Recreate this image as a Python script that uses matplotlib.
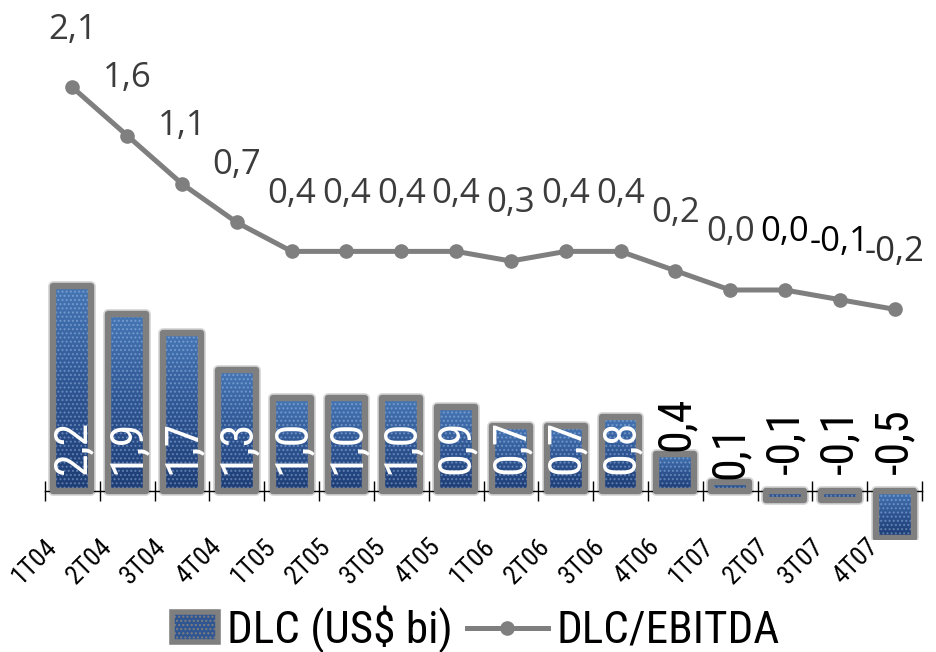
import numpy as np
import matplotlib
matplotlib.use("Agg")
import matplotlib.pyplot as plt
import matplotlib.transforms as mtransforms
from matplotlib import font_manager
from matplotlib.font_manager import FontProperties
from matplotlib.colors import LinearSegmentedColormap
from matplotlib.legend_handler import HandlerPatch
from matplotlib.lines import Line2D
from matplotlib.patches import Rectangle

quarters = ["1T04", "2T04", "3T04", "4T04", "1T05", "2T05", "3T05", "4T05",
            "1T06", "2T06", "3T06", "4T06", "1T07", "2T07", "3T07", "4T07"]
dlc = [2.2, 1.9, 1.7, 1.3, 1.0, 1.0, 1.0, 0.9, 0.7, 0.7, 0.8, 0.4, 0.1, -0.1, -0.1, -0.5]
dlc_ebitda = [2.1, 1.6, 1.1, 0.7, 0.4, 0.4, 0.4, 0.4, 0.3, 0.4, 0.4, 0.2, 0.0, 0.0, -0.1, -0.2]


def find_narrow():
    # look for any installed condensed / narrow regular face
    cands = []
    for f in font_manager.fontManager.ttflist:
        narrowish = ("Narrow" in f.name or "Condensed" in f.name
                     or f.stretch in ("condensed", "semi-condensed", "extra-condensed",
                                      "ultra-condensed"))
        if narrowish and f.style == "normal" and f.weight in (400, "normal", "regular"):
            cands.append(f)
    order = ["Liberation Sans Narrow", "Roboto Condensed", "Open Sans Condensed",
             "Noto Sans", "DejaVu Sans", "Liberation Sans"]
    for name in order:
        for f in cands:
            if f.name.startswith(name):
                return f.fname
    return cands[0].fname if cands else None


narrow_file = find_narrow()


def nfont(size):
    if narrow_file:
        return FontProperties(fname=narrow_file, size=size)
    return FontProperties(family="DejaVu Sans", size=size * 0.8)


LABEL_FONT = ["Open Sans", "DejaVu Sans"]
EDGE = "#7f7f7f"

fig = plt.figure(figsize=(9.36, 6.52), dpi=100)
ax = fig.add_axes([45 / 936, 1 - 540 / 652, 877 / 936, 500 / 652])
ax2 = ax.twinx()

x = np.arange(len(quarters))
width = 0.69

# bars: gradient fill, dotted texture, thick gray border
ax.bar(x, dlc, width=width, facecolor="none", edgecolor="#d4d4d4",
       linewidth=7.0, joinstyle="round", zorder=0.5)
bars = ax.bar(x, dlc, width=width, facecolor="none", edgecolor="none", zorder=1)
cmap = LinearSegmentedColormap.from_list("blu", ["#1d3c74", "#2e5592", "#4676b4"])
grad = np.linspace(0, 1, 64).reshape(-1, 1)
for bar in bars:
    x0 = bar.get_x()
    y0 = bar.get_y()
    h = bar.get_height()
    ylo, yhi = min(y0, y0 + h), max(y0, y0 + h)
    im = ax.imshow(grad, extent=[x0, x0 + bar.get_width(), ylo, yhi],
                   origin="lower", aspect="auto", cmap=cmap, zorder=1)
    im.set_clip_path(bar)

plt.rcParams["hatch.linewidth"] = 1.0
ax.bar(x, dlc, width=width, facecolor="none", edgecolor=(0.75, 0.85, 1.0, 0.35),
       hatch="....", linewidth=0, zorder=2)
ax.bar(x, dlc, width=width, facecolor="none", edgecolor=EDGE,
       linewidth=4.6, joinstyle="round", zorder=3)

for i, v in enumerate(dlc):
    txt = f"{v:.1f}".replace(".", ",")
    if v >= 0.5:
        ax.annotate(txt, xy=(i, 0), xytext=(0, 12), textcoords="offset points",
                    rotation=90, ha="center", va="bottom", color="white",
                    fontproperties=nfont(33), zorder=5)
    else:
        off = 2 if v >= 0 else 12
        ax.annotate(txt, xy=(i, max(v, 0)), xytext=(0, off), textcoords="offset points",
                    rotation=90, ha="center", va="bottom", color="black",
                    fontproperties=nfont(33), zorder=5)

ax.set_xlim(-0.5, len(quarters) - 0.5)
ax.set_ylim(-(540 - 491) / 93, (491 - 40) / 93)

# x axis at zero with boundary ticks
for side in ["top", "left", "right"]:
    ax.spines[side].set_visible(False)
ax.spines["bottom"].set_position(("data", 0))
ax.spines["bottom"].set_linewidth(1.0)
ax.set_yticks([])
ax.set_xticks(x)
ax.set_xticks(np.arange(-0.5, len(quarters), 1.0), minor=True)
ax.tick_params(axis="x", which="major", length=0, pad=31)
ax.tick_params(axis="x", which="minor", direction="inout", length=14, width=1.0)
ax.set_xticklabels(quarters, rotation=45, ha="right", rotation_mode="anchor",
                   fontproperties=nfont(19))
shift = mtransforms.ScaledTranslation(-0.28, 0, fig.dpi_scale_trans)
for lab in ax.get_xticklabels():
    lab.set_transform(lab.get_transform() + shift)

# line series
for side in ["top", "left", "right", "bottom"]:
    ax2.spines[side].set_visible(False)
ax2.set_yticks([])
ax2.plot(x, dlc_ebitda, color=EDGE, linewidth=3.6, marker="o", markersize=9.5,
         solid_capstyle="round", zorder=4)
ax2.set_ylim(-(540 - 290) / 96.5, (290 - 40) / 96.5)
label_colors = ["#3c3c3c"] * 13 + ["black", "black", "#303030"]
for i, v in enumerate(dlc_ebitda):
    ax2.annotate(f"{v:.1f}".replace(".", ","), xy=(i, v), xytext=(0, 35),
                 textcoords="offset points", ha="center", va="baseline",
                 fontsize=25, family=LABEL_FONT, color=label_colors[i])


def small_box(legend, orig_handle, xdescent, ydescent, width, height, fontsize):
    w, h = 33, 21
    return Rectangle((width - xdescent - w, -ydescent + (height - h) / 2), w, h)


handles = [
    Rectangle((0, 0), 1, 1, facecolor="#2f5592", edgecolor=EDGE, linewidth=4,
              hatch="...."),
    Line2D([0], [0], color=EDGE, linewidth=3.6, marker="o", markersize=9.5),
]
fig.legend(handles, ["DLC (US$ bi)", "DLC/EBITDA"], loc="lower center",
           bbox_to_anchor=(0.49, -0.064), ncol=2, frameon=False,
           prop=nfont(32.5), handlelength=1.8, handleheight=0.6,
           handletextpad=0.2, columnspacing=0.3,
           handler_map={Rectangle: HandlerPatch(patch_func=small_box)})

fig.savefig("out.png", dpi=100)
